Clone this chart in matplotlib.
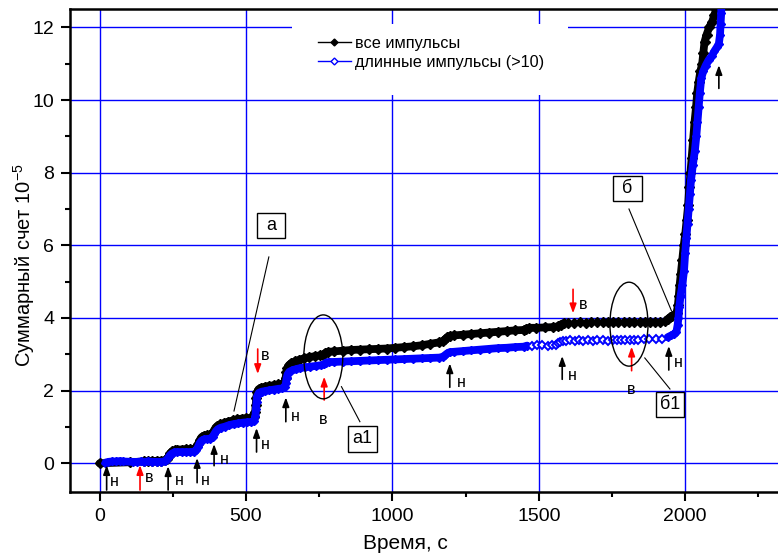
import numpy as np
import matplotlib
matplotlib.use("Agg")
import matplotlib.pyplot as plt
from matplotlib.patches import Ellipse, Rectangle
from matplotlib.lines import Line2D
from matplotlib.ticker import MultipleLocator

plt.rcParams['font.family'] = ['Liberation Sans', 'DejaVu Sans']
plt.rcParams['mathtext.fontset'] = 'custom'
plt.rcParams['mathtext.rm'] = 'Liberation Sans'
plt.rcParams['mathtext.it'] = 'Liberation Sans:italic'
plt.rcParams['mathtext.bf'] = 'Liberation Sans:bold'

# ---- cumulative count, all pulses (time in s, count x 1e-5) ----
all_t = [0, 105, 150, 165, 180, 195, 210, 222, 230, 236, 242, 248, 256, 266, 280, 295, 310, 322,
         330, 336, 342, 348, 356, 366, 376, 384, 390, 396, 402, 412, 425, 440, 455, 470, 485, 500,
         515, 527, 531, 533, 535, 538, 543, 552, 565, 580, 595, 610, 622, 631, 635, 638, 641, 646,
         655, 668, 682, 698, 715, 735, 752, 764, 771, 780, 800, 830, 860, 890, 920, 950, 980, 1010,
         1040, 1070, 1100, 1130, 1160, 1172, 1180, 1188, 1196, 1210, 1240, 1270, 1300, 1330, 1360,
         1390, 1420, 1448, 1458, 1468, 1490, 1520, 1550, 1565, 1575, 1585,
         1600, 1620, 1640, 1660, 1680, 1700, 1718, 1735, 1752, 1770, 1790, 1808, 1826, 1845, 1862,
         1880, 1898, 1915, 1930,
         1940, 1948, 1956, 1964, 1971, 1975, 1978, 1981, 1985, 1990, 1995, 2000, 2005, 2010, 2014,
         2018, 2022, 2027, 2032, 2037, 2041, 2046, 2052, 2058, 2062, 2066, 2073, 2082, 2092, 2100,
         2106, 2112]
all_v = [0.00, 0.03, 0.05, 0.06, 0.06, 0.07, 0.07, 0.08, 0.12, 0.20, 0.28, 0.33, 0.36, 0.38, 0.38,
         0.39, 0.39, 0.40, 0.44, 0.53, 0.64, 0.72, 0.76, 0.78, 0.79, 0.82, 0.90, 0.98, 1.03, 1.07,
         1.11, 1.15, 1.18, 1.21, 1.23, 1.24, 1.25, 1.27, 1.40, 1.60, 1.80, 1.96, 2.04, 2.08, 2.11,
         2.13, 2.15, 2.17, 2.19, 2.22, 2.35, 2.50, 2.62, 2.70, 2.76, 2.81, 2.85, 2.89, 2.92, 2.95,
         2.97, 2.99, 3.04, 3.07, 3.08, 3.10, 3.12, 3.13, 3.14, 3.15, 3.16, 3.18, 3.20, 3.22, 3.25,
         3.29, 3.33, 3.36, 3.42, 3.47, 3.51, 3.52, 3.54, 3.56, 3.58, 3.60, 3.62, 3.64, 3.66, 3.67,
         3.71, 3.73, 3.73, 3.74, 3.75, 3.77, 3.82, 3.86,
         3.87, 3.87, 3.88, 3.87, 3.88, 3.88, 3.88, 3.89, 3.88, 3.89, 3.89, 3.88, 3.89, 3.89, 3.89,
         3.89, 3.90, 3.90, 3.91,
         3.97, 4.02, 4.06, 4.10, 4.15, 4.35, 4.60, 4.90, 5.20, 5.60, 6.00, 6.30, 6.70, 7.10, 7.60,
         8.00, 8.40, 8.90, 9.40, 9.80, 10.20, 10.50, 10.80, 11.00, 11.30, 11.60, 11.80, 12.00,
         12.15, 12.35, 12.50, 12.70]

# ---- cumulative count, long pulses (>10) ----
long_t = [20, 30, 42, 55, 68, 80, 115, 128, 140, 152, 165, 180, 195, 210, 222, 228, 234, 240, 247,
          255, 265, 280, 295, 310, 322, 330, 336, 342, 349, 357, 368, 378, 386, 391, 397, 404, 414,
          428, 442, 458, 474, 490, 505, 518, 528, 532, 534, 536, 539, 544, 553, 566, 580, 595, 610,
          622, 632, 636, 639, 642, 648, 658, 670, 685, 700, 718, 738, 756, 766, 773, 782, 800, 830,
          860, 890, 920, 950, 980, 1010, 1040, 1070, 1100, 1130, 1160, 1172, 1180, 1188, 1196, 1210,
          1240, 1270, 1300, 1330, 1360, 1390, 1420, 1448, 1460,
          1478, 1495, 1512, 1530, 1545, 1558, 1566, 1574, 1582, 1594, 1608, 1622, 1636, 1652, 1668,
          1685, 1700, 1718, 1736, 1752, 1768, 1782, 1796, 1810, 1824, 1840, 1858, 1878, 1900, 1920,
          1940, 1952, 1962, 1970, 1974, 1977, 1980, 1984, 1990, 1996, 2000, 2004, 2008, 2012, 2016,
          2020, 2026, 2033, 2038, 2042, 2046, 2050, 2055, 2062, 2070, 2080, 2090, 2100, 2108, 2115,
          2119, 2121, 2123, 2124]
long_v = [0.02, 0.04, 0.05, 0.05, 0.06, 0.05, 0.04, 0.04, 0.05, 0.04, 0.05, 0.04, 0.04, 0.04, 0.05,
          0.08, 0.15, 0.22, 0.27, 0.30, 0.31, 0.31, 0.31, 0.31, 0.32, 0.36, 0.45, 0.56, 0.63, 0.66,
          0.67, 0.68, 0.72, 0.80, 0.88, 0.94, 0.98, 1.01, 1.05, 1.08, 1.10, 1.12, 1.13, 1.14, 1.16,
          1.30, 1.50, 1.70, 1.86, 1.94, 1.97, 1.99, 2.01, 2.03, 2.05, 2.06, 2.09, 2.20, 2.35, 2.45,
          2.52, 2.56, 2.59, 2.62, 2.64, 2.66, 2.68, 2.70, 2.72, 2.77, 2.79, 2.79, 2.80, 2.81, 2.82,
          2.83, 2.84, 2.85, 2.86, 2.87, 2.88, 2.89, 2.90, 2.91, 2.93, 2.98, 3.03, 3.06, 3.07, 3.09,
          3.11, 3.13, 3.15, 3.17, 3.18, 3.20, 3.21, 3.24,
          3.24, 3.25, 3.25, 3.24, 3.25, 3.26, 3.30, 3.35, 3.38, 3.38, 3.39, 3.38, 3.39, 3.38, 3.39,
          3.38, 3.39, 3.39, 3.38, 3.39, 3.40, 3.39, 3.40, 3.40, 3.40, 3.40, 3.41, 3.41, 3.42, 3.42,
          3.47, 3.52, 3.56, 3.62, 3.80, 4.00, 4.30, 4.60, 4.90, 5.30, 5.80, 6.20, 6.60, 7.00, 7.40,
          7.80, 8.20, 8.60, 9.00, 9.40, 9.80, 10.20, 10.60, 10.80, 10.95, 11.10, 11.20, 11.35,
          11.45, 11.55, 11.80, 12.10, 12.40, 12.70]

series_labels = ['все импульсы', 'длинные импульсы (>10)']

# arrows: x, tail y, head y, colour, letter, letter x, letter y
arrows = [
    (24, -0.735, -0.05, 'black', 'н', 49, -0.51),
    (138, -0.735, -0.05, 'red', 'в', 168, -0.38),
    (234, -0.735, -0.08, 'black', 'н', 271, -0.46),
    (333, -0.534, 0.146, 'black', 'н', 360, -0.46),
    (391, -0.066, 0.531, 'black', 'н', 425, 0.118),
    (536, 0.311, 0.972, 'black', 'н', 565, 0.531),
    (540, 3.146, 2.458, 'red', 'в', 567, 2.96),
    (636, 1.145, 1.817, 'black', 'н', 669, 1.283),
    (767, 1.742, 2.384, 'red', 'в', 764, 1.211),
    (1196, 2.092, 2.752, 'black', 'н', 1234, 2.218),
    (1580, 2.312, 2.953, 'black', 'н', 1614, 2.41),
    (1617, 4.79, 4.129, 'red', 'в', 1652, 4.385),
    (1817, 2.549, 3.21, 'red', 'в', 1817, 2.018),
    (1944, 2.568, 3.229, 'black', 'н', 1978, 2.769),
    (2115, 10.32, 10.96, 'black', '', 0, 0),
]

# labelled boxes: text, centre x, centre y, width, height, leader line start, leader line end
boxes = [
    ('а', 585, 6.545, 96, 0.69, (578, 5.68), (459, 1.44)),
    ('б', 1802, 7.565, 99, 0.69, (1808, 7.0), (1953, 4.2)),
    ('а1', 897, 0.67, 99, 0.72, (826, 2.11), (889, 1.145)),
    ('б1', 1948, 1.62, 96, 0.69, (1862, 2.90), (1948, 2.045)),
]

# ellipses: centre x, centre y, width, height
rings = [(764, 2.93, 133, 2.31), (1808, 3.83, 130, 2.31)]

BLUE = '#0000ff'

fig = plt.figure(figsize=(7.78, 5.57), dpi=100)
ax = fig.add_axes([0.0904, 0.1172, 0.9096, 0.8661])
ax.set_xlim(-100, 2317)
ax.set_ylim(-0.782, 12.497)

ax.set_axisbelow(True)
ax.grid(True, which='major', color=BLUE, lw=1.0)
ax.set_xticks([0, 500, 1000, 1500, 2000])
ax.set_yticks([0, 2, 4, 6, 8, 10, 12])
ax.xaxis.set_minor_locator(MultipleLocator(250))
ax.yaxis.set_minor_locator(MultipleLocator(1))
ax.tick_params(which='both', direction='out', top=False, right=False, width=1.5,
               labelsize=14, pad=5)
ax.tick_params(which='major', length=6.5)
ax.tick_params(which='minor', length=3.3)
for side in ('left', 'bottom', 'top'):
    ax.spines[side].set_linewidth(1.8)
ax.spines['right'].set_visible(False)

# white patch under the legend, hiding grid lines there
ax.add_patch(Rectangle((0.3133, 0.8224), 0.39, 0.1471, transform=ax.transAxes,
                       fc='white', ec='none', zorder=0.8))

at = np.array(all_t, float)
av = np.array(all_v, float)
lt = np.array(long_t, float)
lv = np.array(long_v, float)

# all pulses: dense stretches drawn as a solid band of overlapping symbols
a_dense = (at <= 1586) | (at >= 1940)
ax.plot(at, np.where(a_dense, av, np.nan), color='black', lw=5.6,
        solid_joinstyle='round', solid_capstyle='round', zorder=3)
ax.plot(at, av, color='black', lw=1.0, marker='D', ms=4.8, mfc='black', mec='black', zorder=3)

# long pulses
l_dense = (lt <= 1461) | (lt >= 1940)
ax.plot(lt, np.where(l_dense, lv, np.nan), color=BLUE, lw=5.6,
        solid_joinstyle='round', solid_capstyle='round', zorder=4)
ax.plot(lt, lv, color=BLUE, lw=1.0, zorder=4)
ax.plot(lt[l_dense], lv[l_dense], ls='none', marker='D', ms=4.4, mfc=BLUE, mec=BLUE, zorder=4)
ax.plot(lt[~l_dense], lv[~l_dense], ls='none', marker='D', ms=3.8, mfc='white', mec=BLUE,
        mew=1.4, zorder=4)

handles = [Line2D([], [], color='black', lw=1.0, marker='D', ms=3.5, mfc='black', mec='black'),
           Line2D([], [], color=BLUE, lw=1.0, marker='D', ms=3.5, mfc='white', mec=BLUE, mew=1.0)]
ax.legend(handles, series_labels, loc='upper left', bbox_to_anchor=(0.35, 0.945),
          frameon=False, fontsize=11.7, handlelength=2.0, handletextpad=0.3,
          labelspacing=0.25, borderpad=0, borderaxespad=0)

# arrows with letters
for x, y0, y1, col, letter, tx, ty in arrows:
    ax.annotate('', xy=(x, y1), xytext=(x, y0),
                arrowprops=dict(arrowstyle='-|>,head_length=0.55,head_width=0.2',
                                color=col, lw=1.2, mutation_scale=10,
                                shrinkA=0, shrinkB=0), zorder=6)
    if letter:
        ax.text(tx, ty, letter, fontsize=11.5, ha='center', va='center', zorder=6)

for text, cx, cy, w, h, p0, p1 in boxes:
    ax.plot([p0[0], p1[0]], [p0[1], p1[1]], color='black', lw=0.8, zorder=6)
    ax.add_patch(Rectangle((cx - w / 2, cy - h / 2), w, h, fc='white', ec='black',
                           lw=1.0, zorder=7))
    ax.text(cx, cy, text, fontsize=13, ha='center', va='center', zorder=8)

for cx, cy, w, h in rings:
    ax.add_patch(Ellipse((cx, cy), w, h, fill=False, ec='black', lw=1.0, zorder=6))

ax.set_xlabel('Время, с', fontsize=15)
ax.xaxis.set_label_coords(0.473, -0.0877)
ax.set_ylabel('Суммарный счет 10$^{-5}$', fontsize=14.5)
ax.yaxis.set_label_coords(-0.047, 0.469)

fig.savefig('out.png', dpi=100)
